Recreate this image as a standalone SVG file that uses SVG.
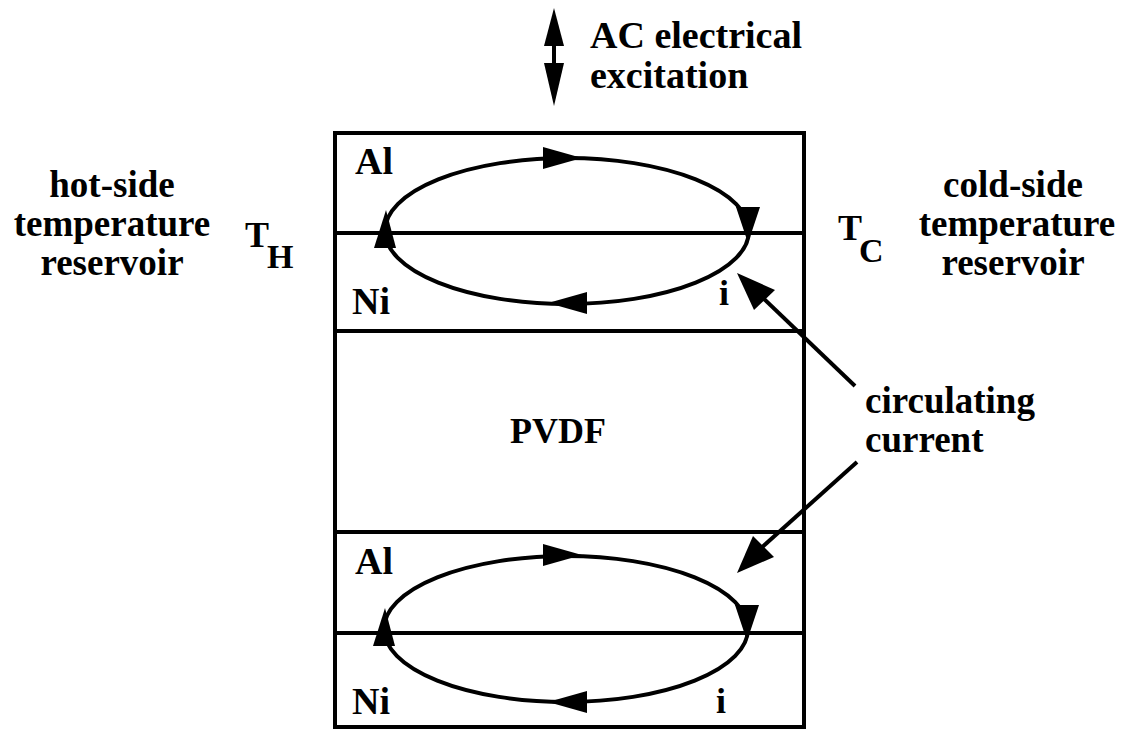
<svg xmlns="http://www.w3.org/2000/svg" width="1130" height="729" viewBox="0 0 1130 729">
<style>
.t{font-family:"Liberation Serif","Times New Roman",serif;font-weight:bold;fill:#000}
.s{stroke:#000;stroke-width:4;fill:none}
.h{fill:#000}
</style>
<rect width="1130" height="729" fill="#fff"/>
<g id="device">
<rect class="s" x="335" y="133" width="469" height="594"/>
<line class="s" x1="335" y1="233" x2="804" y2="233"/>
<line class="s" x1="335" y1="331" x2="804" y2="331"/>
<line class="s" x1="335" y1="532" x2="804" y2="532"/>
<line class="s" x1="335" y1="633" x2="804" y2="633"/>
</g>
<g id="labels-layers">
<text class="t" x="355" y="174" font-size="38">Al</text>
<text class="t" x="352" y="314" font-size="38">Ni</text>
<text class="t" x="719" y="305" font-size="36">i</text>
<text class="t" x="558" y="443" font-size="36" text-anchor="middle">PVDF</text>
<text class="t" x="355" y="574" font-size="38">Al</text>
<text class="t" x="352" y="714" font-size="38">Ni</text>
<text class="t" x="716" y="713" font-size="36">i</text>
</g>
<g id="loop-top">
<ellipse class="s" cx="567" cy="231" rx="182" ry="73"/>
<polygon class="h" points="543,147 582,158 543,169"/>
<polygon class="h" points="587,292 548,303 587,314"/>
<polygon class="h" points="736,207 760,207 748,243"/>
<polygon class="h" points="374,248 396,248 386,210"/>
</g>
<g id="loop-bottom">
<ellipse class="s" cx="566" cy="629" rx="182" ry="73"/>
<polygon class="h" points="543,544 582,555 543,566"/>
<polygon class="h" points="587,691 548,702 587,713"/>
<polygon class="h" points="735,605 759,605 747,641"/>
<polygon class="h" points="373,646 395,646 385,608"/>
</g>
<g id="excitation">
<line class="s" x1="554" y1="40" x2="554" y2="68"/>
<polygon class="h" points="554,8 564,46 544,46"/>
<polygon class="h" points="544,63 564,63 554,106"/>
<text class="t" x="590" y="48" font-size="38">AC electrical</text>
<text class="t" x="590" y="88" font-size="38">excitation</text>
</g>
<g id="hot-side">
<text class="t" font-size="37" text-anchor="middle"><tspan x="112" y="197">hot-side</tspan><tspan x="112" y="236">temperature</tspan><tspan x="112" y="275">reservoir</tspan></text>
<text class="t" x="245" y="247" font-size="36">T</text>
<text class="t" x="267" y="268" font-size="34">H</text>
</g>
<g id="cold-side">
<text class="t" font-size="37" text-anchor="middle"><tspan x="1013" y="197">cold-side</tspan><tspan x="1017" y="236">temperature</tspan><tspan x="1013" y="275">reservoir</tspan></text>
<text class="t" x="838" y="240" font-size="36">T</text>
<text class="t" x="859" y="262" font-size="34">C</text>
</g>
<g id="current-label">
<text class="t" font-size="37"><tspan x="865" y="413">circulating</tspan><tspan x="865" y="452">current</tspan></text>
</g>
<g id="connectors">
<line class="s" x1="855" y1="386" x2="760" y2="295"/>
<polygon class="h" points="737,273 775,290 754,310"/>
<line class="s" x1="857" y1="462" x2="760" y2="549"/>
<polygon class="h" points="737,573 753,536 774,557"/>
</g>
</svg>
